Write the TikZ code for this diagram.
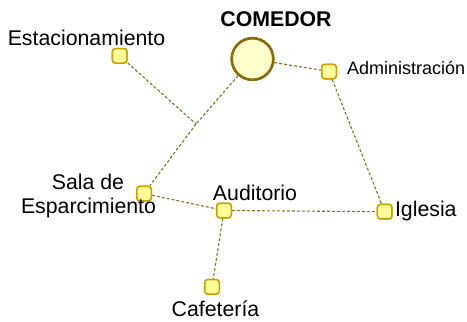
\documentclass[tikz,border=0pt]{standalone}
\usepackage{fontspec}
\setmainfont{Liberation Sans}
\definecolor{boxfill}{HTML}{FFFF99}
\definecolor{boxdraw}{HTML}{CCA000}
\definecolor{circfill}{HTML}{FFFFCC}
\definecolor{circdraw}{HTML}{8B6A08}
\definecolor{linkcol}{HTML}{8B7020}
\begin{document}
\begin{tikzpicture}[x=1pt,y=-1pt,
  site/.style={draw=boxdraw,fill=boxfill,line width=1.5pt,rounded corners=3pt,minimum size=14.5pt,inner sep=0pt},
  hub/.style={circle,draw=circdraw,fill=circfill,line width=2.5pt,minimum size=41.5pt,inner sep=0pt},
  link/.style={draw=linkcol,line width=1.1pt,dash pattern=on 3pt off 2pt},
  lbl/.style={font=\fontsize{21.3}{24.3}\selectfont,inner sep=0pt,anchor=base},
  small/.style={font=\fontsize{18}{21}\selectfont,inner sep=0pt,anchor=base},
  big/.style={font=\fontsize{21.3}{24.3}\selectfont\bfseries,inner sep=0pt,anchor=base}]
\useasboundingbox (0,0) rectangle (467,322);
% connectors
\coordinate (J) at (196,124);
\node[hub] (com) at (252.5,59) {};
\node[site] (est) at (119.7,55.8) {};
\node[site] (adm) at (329,71.5) {};
\node[site] (sal) at (144,193.5) {};
\node[site] (aud) at (224,210.5) {};
\node[site] (igl) at (384.7,211.7) {};
\node[site] (caf) at (212,286.8) {};
\draw[link] (com) -- (J);
\draw[link] (J) -- (sal);
\draw[link] (est) -- (J);
\draw[link] (com) -- (adm);
\draw[link] (adm) -- (igl);
\draw[link] (sal) -- (aud);
\draw[link] (aud) -- (igl);
\draw[link] (aud) -- (caf);
% redraw nodes on top
\node[hub] at (com) {};
\node[site] at (est) {};
\node[site] at (adm) {};
\node[site] at (sal) {};
\node[site] at (aud) {};
\node[site] at (igl) {};
\node[site] at (caf) {};
% labels
\node[big] (tcom) at (276,26.7) {COMEDOR};
\node[lbl] (test) at (86.5,45) {Estacionamiento};
\node[small] (tadm) at (406.2,74.3) {Administración};
\node[lbl] (tsal1) at (88,189) {Sala de};
\node[lbl] (tsal2) at (88.5,213.3) {Esparcimiento};
\node[lbl] (taud) at (255,200) {Auditorio};
\node[lbl] (tigl) at (425.8,216.7) {Iglesia};
\node[lbl] (tcaf) at (215.5,316.7) {Cafetería};
\end{tikzpicture}
\end{document}
